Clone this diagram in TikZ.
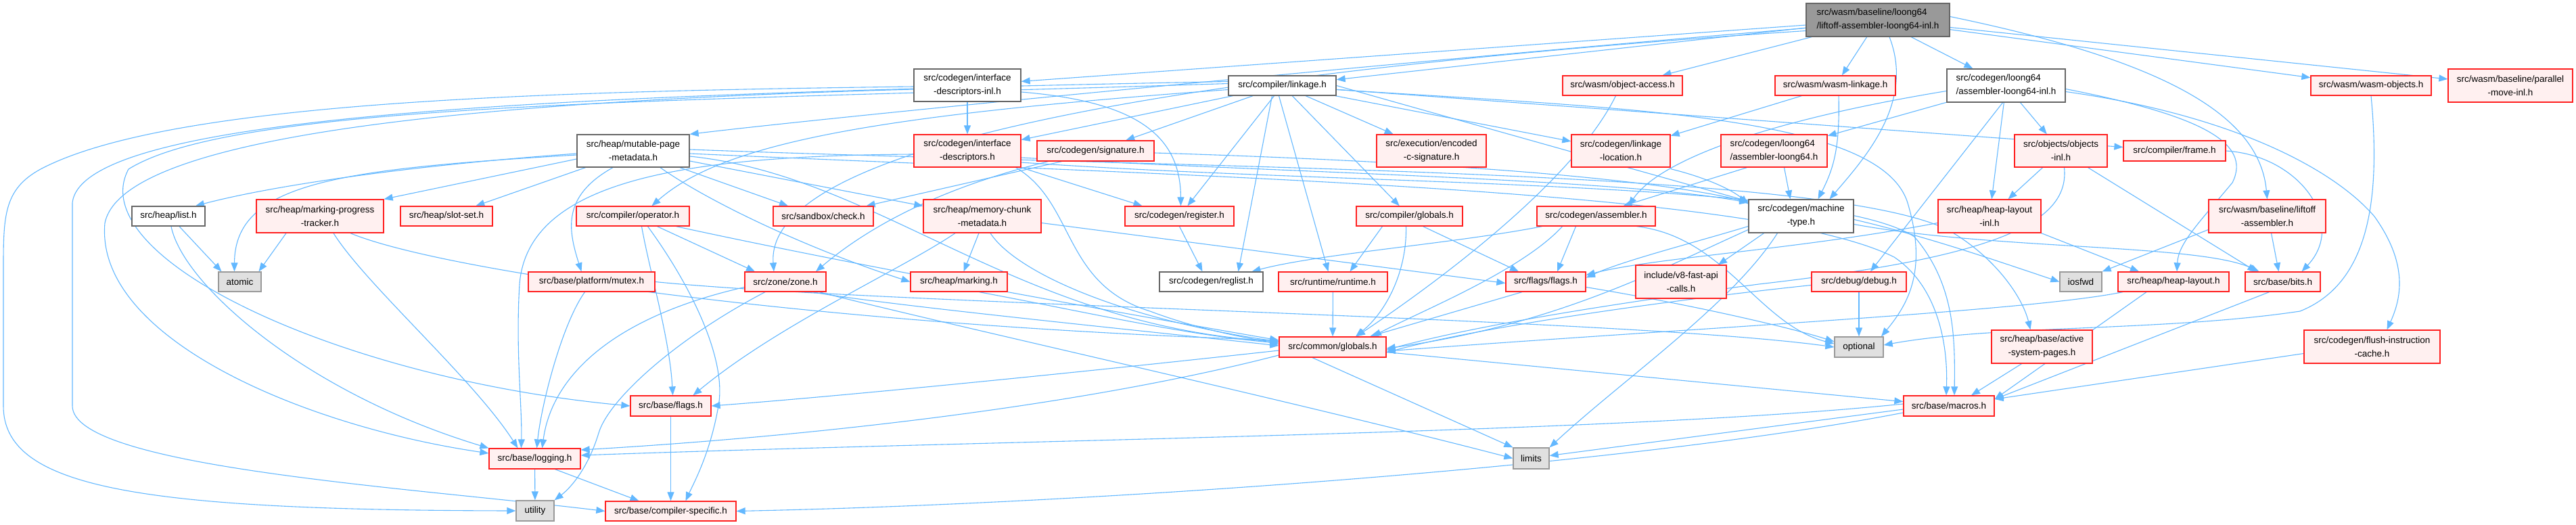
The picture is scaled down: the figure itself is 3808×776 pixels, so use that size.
\documentclass[tikz,border=0pt]{standalone}
\usepackage{fontspec}
\setmainfont{Liberation Sans}
\usetikzlibrary{arrows.meta}
\definecolor{edgeblue}{HTML}{63B8FF}
\definecolor{redfill}{HTML}{FFF0F0}
\definecolor{redline}{HTML}{FF2020}
\definecolor{greyforty}{HTML}{666666}
\definecolor{greysixty}{HTML}{999999}
\definecolor{sysfill}{HTML}{E0E0E0}
\pgfdeclarelayer{bg}
\pgfsetlayers{bg,main}
\tikzset{
 box/.style={draw, rectangle, inner sep=0pt, align=center, font=\fontsize{13.5}{20}\selectfont, line width=1.3pt},
 rbox/.style={box, draw=redline, fill=redfill},
 wbox/.style={box, draw=greyforty, fill=white},
 gbox/.style={box, draw=greyforty, fill=greysixty},
 sbox/.style={box, draw=greysixty, fill=sysfill},
 edg/.style={draw=edgeblue, line width=1.1pt, -{Triangle[length=13pt,width=10pt]}}
}
\newcommand{\mknode}[7]{\node[#6, minimum width={#4pt-#2pt}, minimum height={#5pt-#3pt}] (#1) at ({(#2+#4)/2},{(#3+#5)/2}) {#7};}
\begin{document}
\begin{tikzpicture}[x=1pt,y=-1pt]
\useasboundingbox (0,0) rectangle (3808,776);
% row 0-1
\mknode{T}{2670}{5}{2882}{54}{gbox,align=left}{src/wasm/baseline/loong64\\/liftoff-assembler-loong64-inl.h}
\mknode{IDI}{1351}{102}{1509}{150}{wbox}{src/codegen/interface\\-descriptors-inl.h}
\mknode{LNK}{1816}{112}{1975}{141}{wbox}{src/compiler/linkage.h}
\mknode{OA}{2310}{112}{2487}{141}{rbox}{src/wasm/object-access.h}
\mknode{WL}{2624}{112}{2802}{141}{rbox}{src/wasm/wasm-linkage.h}
\mknode{ALI}{2878}{102}{3053}{151}{wbox,align=left}{src/codegen/loong64\\/assembler-loong64-inl.h}
\mknode{WO}{3416}{112}{3594}{141}{rbox}{src/wasm/wasm-objects.h}
\mknode{PM}{3619}{102}{3803}{151}{rbox}{src/wasm/baseline/parallel\\-move-inl.h}
% row 2
\mknode{MPM}{853}{199}{1019}{247}{wbox}{src/heap/mutable-page\\-metadata.h}
\mknode{IDH}{1351}{199}{1509}{247}{rbox}{src/codegen/interface\\-descriptors.h}
\mknode{SIG}{1533}{208}{1706}{238}{rbox}{src/codegen/signature.h}
\mknode{ECS}{2035}{199}{2197}{247}{rbox}{src/execution/encoded\\-c-signature.h}
\mknode{LL}{2323}{199}{2469}{247}{rbox}{src/codegen/linkage\\-location.h}
\mknode{AL}{2544}{199}{2701}{247}{rbox,align=left}{src/codegen/loong64\\/assembler-loong64.h}
\mknode{OI}{2978}{199}{3115}{247}{rbox}{src/objects/objects\\-inl.h}
\mknode{FR}{3139}{208}{3290}{238}{rbox}{src/compiler/frame.h}
% row 3
\mknode{LIST}{195}{305}{303}{334}{wbox}{src/heap/list.h}
\mknode{MPT}{379}{295}{567}{344}{rbox}{src/heap/marking-progress\\-tracker.h}
\mknode{SS}{592}{305}{728}{334}{rbox}{src/heap/slot-set.h}
\mknode{OP}{852}{305}{1019}{334}{rbox}{src/compiler/operator.h}
\mknode{CHK}{1143}{305}{1291}{334}{rbox}{src/sandbox/check.h}
\mknode{MCM}{1365}{295}{1539}{344}{rbox}{src/heap/memory-chunk\\-metadata.h}
\mknode{REG}{1663}{305}{1824}{334}{rbox}{src/codegen/register.h}
\mknode{CG}{2005}{305}{2162}{334}{rbox}{src/compiler/globals.h}
\mknode{ASM}{2272}{305}{2447}{334}{rbox}{src/codegen/assembler.h}
\mknode{MT}{2585}{295}{2740}{344}{wbox}{src/codegen/machine\\-type.h}
\mknode{HLI}{2865}{295}{3017}{344}{rbox}{src/heap/heap-layout\\-inl.h}
\mknode{LA}{3265}{295}{3438}{344}{rbox}{src/wasm/baseline/liftoff\\-assembler.h}
% row 4
\mknode{ATOM}{323}{402}{386}{431}{sbox}{atomic}
\mknode{MUT}{781}{402}{968}{431}{rbox}{src/base/platform/mutex.h}
\mknode{ZONE}{1101}{402}{1221}{431}{rbox}{src/zone/zone.h}
\mknode{MARK}{1346}{402}{1489}{431}{rbox}{src/heap/marking.h}
\mknode{RL}{1714}{402}{1867}{431}{wbox}{src/codegen/reglist.h}
\mknode{RT}{1890}{402}{2051}{431}{rbox}{src/runtime/runtime.h}
\mknode{FF}{2226}{402}{2344}{431}{rbox}{src/flags/flags.h}
\mknode{V8F}{2418}{392}{2552}{441}{rbox}{include/v8-fast-api\\-calls.h}
\mknode{DBG}{2678}{402}{2818}{431}{rbox}{src/debug/debug.h}
\mknode{IOS}{3045}{402}{3107}{431}{sbox}{iosfwd}
\mknode{HL}{3131}{402}{3295}{431}{rbox}{src/heap/heap-layout.h}
\mknode{BITS}{3319}{402}{3430}{431}{rbox}{src/base/bits.h}
% row 5
\mknode{CGL}{1891}{498}{2049}{528}{rbox}{src/common/globals.h}
\mknode{OPT}{2712}{498}{2784}{528}{sbox}{optional}
\mknode{ASP}{2944}{488}{3093}{537}{rbox}{src/heap/base/active\\-system-pages.h}
\mknode{FIC}{3406}{488}{3607}{537}{rbox}{src/codegen/flush-instruction\\-cache.h}
% row 6-8
\mknode{BF}{932}{585}{1051}{615}{rbox}{src/base/flags.h}
\mknode{MAC}{2814}{585}{2948}{615}{rbox}{src/base/macros.h}
\mknode{LOG}{723}{663}{858}{693}{rbox}{src/base/logging.h}
\mknode{LIM}{2237}{662}{2290}{693}{sbox}{limits}
\mknode{UTIL}{763}{740}{819}{770}{sbox}{utility}
\mknode{CS}{895}{741}{1088}{770}{rbox}{src/base/compiler-specific.h}

\begin{pgfonlayer}{bg}
\fill[white] (0,0) rectangle (3808,776);
% T
\draw[edg] (T) -- (IDI);
\draw[edg] (T) -- (LNK);
\draw[edg] (T) -- (OA);
\draw[edg] (T) -- (WL);
\draw[edg] (T) -- (ALI);
\draw[edg] (T) -- (WO);
\draw[edg] (T) -- (PM);
\draw[edg] ([xshift=17pt]T.south) .. controls (2830,150) and (2760,230) .. ([xshift=42pt]MT.north);
\draw[edg] ([yshift=5pt]T.east) .. controls (3200,90) and (3340,170) .. (LA.north);
\draw[edg] ([yshift=-12pt]T.west) .. controls (2200,80) and (1300,165) .. (MPM.north east);
\draw[edg] ([yshift=-16pt]T.west) .. controls (1700,110) and (1130,220) .. ([xshift=-17pt]ZONE.north);
% IDI
\draw[edg] (IDI) -- (IDH);
\draw[edg] ([yshift=-10pt]IDI.east) .. controls (1680,150) and (1745,200) .. ([xshift=2pt]REG.north);
\draw[edg] ([yshift=-2pt]IDI.west) .. controls (800,135) and (250,150) .. (60,250) .. controls (5,280) and (5,320) .. (5,400) -- (5,600) .. controls (5,720) and (200,754) .. (UTIL.west);
\draw[edg] ([yshift=-6pt]IDI.west) .. controls (700,150) and (180,200) .. (155,330) .. controls (140,500) and (450,630) .. ([yshift=8pt]LOG.west);
% LNK
\draw[edg] (LNK) -- (IDH);
\draw[edg] (LNK) -- (SIG);
\draw[edg] (LNK) -- (ECS);
\draw[edg] (LNK) -- (LL);
\draw[edg] (LNK) -- (CG);
\draw[edg] (LNK) -- (REG);
\draw[edg] ([xshift=-15pt]LNK.south) -- ([xshift=40pt]RL.north);
\draw[edg] ([xshift=-5pt]LNK.south) -- ([xshift=-7pt]RT.north);
\draw[edg] ([yshift=-6pt]LNK.west) .. controls (1300,170) and (1070,210) .. ([xshift=28pt]OP.north);
\draw[edg] (LNK) -- (FR);
\draw[edg] (LNK.east) .. controls (2200,190) and (2450,260) .. ([yshift=22pt]MT.west);
\draw[edg] ([yshift=3pt]LNK.west) .. controls (1000,150) and (350,150) .. (190,250) .. controls (120,380) and (500,560) .. (BF.west);
\draw[edg] ([yshift=6pt]LNK.west) .. controls (800,140) and (120,170) .. (107,300) -- (107,600) .. controls (107,690) and (600,720) .. (CS.west);
\draw[edg] ([yshift=-6pt]LNK.east) .. controls (2400,160) and (2780,170) .. (2820,300) .. controls (2850,400) and (2820,450) .. ([xshift=33pt]OPT.north);
% OA
\draw[edg] ([xshift=-10pt]OA.south) .. controls (2330,260) and (2150,400) .. ([xshift=35pt]CGL.north);
% WL
\draw[edg] (WL) -- (LL);
\draw[edg] ([xshift=5pt]WL.south) .. controls (2720,220) and (2710,250) .. ([xshift=25pt]MT.north);
% ALI
\draw[edg] (ALI) -- (AL);
\draw[edg] (ALI) -- (OI);
\draw[edg] (ALI) -- (HLI);
\draw[edg] ([xshift=-5pt]ALI.south) -- ([xshift=17pt]DBG.north);
\draw[edg] ([yshift=-8pt]ALI.west) .. controls (2600,180) and (2450,240) .. ([xshift=48pt]ASM.north);
\draw[edg] ([yshift=-5pt]ALI.east) .. controls (3250,170) and (3330,210) .. (3300,270) .. controls (3250,330) and (3220,360) .. ([xshift=5pt]HL.north);
\draw[edg] ([yshift=-9pt]ALI.east) .. controls (3300,170) and (3450,250) .. (3510,320) .. controls (3560,390) and (3550,440) .. ([xshift=22pt]FIC.north);
% AL
\draw[edg] ([xshift=15pt]AL.south) -- ([xshift=-16pt]MT.north);
\draw[edg] ([xshift=-40pt]AL.south) -- ([xshift=40pt]ASM.north);
% OI
\draw[edg] (OI) -- (HLI);
\draw[edg] ([xshift=40pt]OI.south) -- ([xshift=-39pt]BITS.north);
\draw[edg] ([xshift=5pt]OI.south) .. controls (3060,330) and (2950,380) .. (2600,420) .. controls (2300,460) and (2150,490) .. ([yshift=-4pt]CGL.east);
% FR, LA
\draw[edg] (FR.east) .. controls (3400,230) and (3470,330) .. ([xshift=28pt]BITS.north);
\draw[edg] ([xshift=6pt]LA.south) -- ([xshift=-6pt]BITS.north);
\draw[edg] ([yshift=-20pt]LA.west) -- (IOS.north east);
% MPM
\draw[edg] ([yshift=-4pt]MPM.west) .. controls (600,245) and (400,275) .. ([xshift=40pt]LIST.north);
\draw[edg] ([yshift=-6pt]MPM.west) .. controls (500,250) and (347,270) .. ([xshift=-8pt]ATOM.north);
\draw[edg] ([yshift=-12pt]MPM.west) -- (MPT.north east);
\draw[edg] (MPM) -- (SS);
\draw[edg] ([xshift=-30pt]MPM.south) .. controls (830,290) and (840,340) .. ([xshift=-15pt]MUT.north);
\draw[edg] ([xshift=69pt]MPM.south) -- ([xshift=-52pt]CHK.north);
\draw[edg] ([yshift=-15pt]MPM.east) -- ([yshift=15pt]MCM.west);
\draw[edg] ([xshift=40pt]MPM.south) .. controls (1050,300) and (1200,370) .. (MARK.west);
\draw[edg] ([yshift=2pt]MPM.east) .. controls (1800,250) and (2700,250) .. (2880,340) .. controls (2950,380) and (2990,440) .. ([xshift=-17pt]ASP.north);
\draw[edg] ([yshift=-4pt]MPM.east) .. controls (1800,262) and (2600,280) .. (2800,380) .. controls (2860,420) and (2880,500) .. ([xshift=-4pt]MAC.north);
\draw[edg] ([yshift=-8pt]MPM.east) .. controls (1300,260) and (1500,480) .. ([yshift=8pt]CGL.west);
% IDH
\draw[edg] (IDH.south east) -- ([xshift=-55pt]REG.north);
\draw[edg] ([yshift=-5pt]IDH.west) .. controls (1000,230) and (780,270) .. (768,420) .. controls (762,520) and (772,600) .. ([xshift=-20pt]LOG.north);
\draw[edg] ([yshift=-10pt]IDH.east) .. controls (1900,255) and (2400,265) .. ([yshift=20pt]MT.west);
\draw[edg] ([xshift=-8pt]IDH.south east) .. controls (1590,300) and (1570,420) .. (1700,460) .. controls (1780,490) and (1850,500) .. ([yshift=4pt]CGL.west);
\draw[edg] ([yshift=-17pt]IDH.east) .. controls (2000,275) and (2700,265) .. (2830,350) .. controls (2890,420) and (2890,500) .. ([xshift=8pt]MAC.north);
% SIG
\draw[edg] ([xshift=-50pt]SIG.south) -- ([xshift=-11pt]CHK.north east);
\draw[edg] ([xshift=-70pt]SIG.south) .. controls (1400,275) and (1290,330) .. ([xshift=45pt]ZONE.north);
\draw[edg] ([yshift=-3pt]SIG.east) .. controls (2000,235) and (2400,255) .. ([yshift=21pt]MT.west);
% LL
\draw[edg] ([yshift=-2pt]LL.south east) .. controls (2520,262) and (2560,280) .. ([yshift=18pt]MT.west);
% OP
\draw[edg] ([xshift=36pt]OP.south) -- ([xshift=-45pt]ZONE.north);
\draw[edg] ([xshift=13pt]OP.south) .. controls (960,400) and (990,500) .. ([xshift=3pt]BF.north);
\draw[edg] ([xshift=22pt]OP.south) .. controls (1020,420) and (1075,530) .. (1062,600) .. controls (1050,670) and (1025,715) .. ([xshift=22pt]CS.north);
\draw[edg] ([xshift=64pt]OP.south) .. controls (1300,400) and (1700,470) .. ([yshift=10pt]CGL.west);
% MCM
\draw[edg] ([xshift=-5pt]MCM.south) -- ([xshift=7pt]MARK.north);
\draw[edg] ([xshift=-40pt]MCM.south) .. controls (1330,400) and (1150,480) .. ([xshift=33pt]BF.north);
\draw[edg] ([xshift=12pt]MCM.south) .. controls (1500,400) and (1650,470) .. ([yshift=8pt]CGL.west);
\draw[edg] ([yshift=-10pt]MCM.east) -- ([yshift=-2pt]FF.west);
% REG
\draw[edg] (REG.south) -- ([xshift=-13pt]RL.north);
% CG
\draw[edg] ([xshift=-40pt]CG.south) -- ([xshift=25pt]RT.north);
\draw[edg] ([xshift=20pt]CG.south) -- ([xshift=-40pt]FF.north);
\draw[edg] ([xshift=-5pt]CG.south) .. controls (2080,400) and (2050,460) .. ([xshift=34pt]CGL.north);
% ASM
\draw[edg] ([xshift=-80pt]ASM.south) .. controls (2150,360) and (1950,375) .. ([xshift=60pt]RL.north);
\draw[edg] ([xshift=-30pt]ASM.south) -- ([xshift=17pt]FF.north);
\draw[edg] ([xshift=-50pt]ASM.south) .. controls (2250,400) and (2100,460) .. ([xshift=59pt]CGL.north);
\draw[edg] ([xshift=60pt]ASM.south) .. controls (2550,350) and (2600,480) .. ([yshift=5pt]OPT.west);
% MT
\draw[edg] ([xshift=-55pt]MT.south) -- ([xshift=55pt]V8F.north);
\draw[edg] ([yshift=-15pt]MT.west) .. controls (2500,360) and (2400,385) .. ([yshift=6pt]FF.east);
\draw[edg] ([yshift=-20pt]MT.west) .. controls (2450,400) and (2300,480) .. ([yshift=-2pt]CGL.east);
\draw[edg] ([xshift=-35pt]MT.south) .. controls (2560,450) and (2400,560) .. (LIM.north east);
\draw[edg] ([yshift=-5pt]MT.east) .. controls (2850,350) and (2950,385) .. (IOS.west);
\draw[edg] ([yshift=-12pt]MT.east) .. controls (2950,370) and (3250,360) .. ([xshift=-35pt]BITS.north);
% HLI
\draw[edg] (HLI.south east) -- ([xshift=-51pt]HL.north);
\draw[edg] ([yshift=-10pt]HLI.west) .. controls (2650,370) and (2450,380) .. ([yshift=10pt]FF.east);
% DBG
\draw[edg] (DBG) -- (OPT);
\draw[edg] ([yshift=-5pt]DBG.west) .. controls (2500,440) and (2200,480) .. ([yshift=-8pt]CGL.east);
% WO
\draw[edg] (WO.south) .. controls (3520,300) and (3500,420) .. (3400,460) .. controls (3200,490) and (2950,480) .. ([yshift=3pt]OPT.east);
% MUT
\draw[edg] ([xshift=-10pt]MUT.south) .. controls (830,480) and (800,600) .. ([xshift=3pt]LOG.north);
\draw[edg] (MUT.east) .. controls (1300,450) and (2400,470) .. (OPT.west);
% ZONE
\draw[edg] ([yshift=-8pt]ZONE.west) .. controls (900,470) and (815,560) .. ([xshift=11pt]LOG.north);
\draw[edg] ([xshift=-30pt]ZONE.south) .. controls (1000,500) and (900,590) .. (885,640) .. controls (870,690) and (845,720) .. (UTIL.north east);
\draw[edg] ([xshift=40pt]ZONE.south) .. controls (1300,450) and (1700,490) .. ([yshift=2pt]CGL.west);
\draw[edg] ([xshift=50pt]ZONE.south) .. controls (1400,480) and (1900,590) .. (LIM.west);
% MARK, RT, FF
\draw[edg] ([xshift=30pt]MARK.south) .. controls (1600,460) and (1750,495) .. ([yshift=6pt]CGL.west);
\draw[edg] (RT) -- (CGL);
\draw[edg] ([xshift=-35pt]FF.south) -- ([xshift=55pt]CGL.north);
\draw[edg] ([yshift=-8pt]FF.east) .. controls (2500,450) and (2650,485) .. ([yshift=8pt]OPT.west);
% HL, BITS, ASP, FIC
\draw[edg] ([xshift=-40pt]HL.south) -- ([yshift=10pt]MAC.east);
\draw[edg] ([xshift=-75pt]HL.south) .. controls (3000,460) and (2500,485) .. ([yshift=-6pt]CGL.east);
\draw[edg] ([xshift=-20pt]BITS.south) -- ([yshift=10pt]MAC.east);
\draw[edg] ([xshift=-30pt]ASP.south) -- ([xshift=33pt]MAC.north);
\draw[edg] ([yshift=-10pt]FIC.west) -- ([yshift=10pt]MAC.east);
% MPT, LIST
\draw[edg] ([xshift=-50pt]MPT.south) -- ([xshift=28pt]ATOM.north);
\draw[edg] ([xshift=20pt]MPT.south) .. controls (540,420) and (700,560) .. ([xshift=-25pt]LOG.north);
\draw[edg] ([xshift=45pt]MPT.south) .. controls (650,400) and (1200,480) .. ([yshift=10pt]CGL.west);
\draw[edg] ([xshift=4pt]LIST.south) .. controls (270,420) and (450,580) .. (LOG.north west);
\draw[edg] ([xshift=16pt]LIST.south) -- ([xshift=-27pt]ATOM.north);
% CGL
\draw[edg] ([yshift=-5pt]CGL.west) .. controls (1600,550) and (1250,585) .. (BF.east);
\draw[edg] ([yshift=-12pt]CGL.west) .. controls (1600,600) and (1200,645) .. ([yshift=13pt]LOG.east);
\draw[edg] (CGL) -- (MAC);
\draw[edg] ([xshift=-30pt]CGL.south) -- (LIM.north west);
% BF, MAC, LOG
\draw[edg] (BF) -- (CS);
\draw[edg] ([yshift=3pt]MAC.west) .. controls (2400,640) and (1500,650) .. ([yshift=5pt]LOG.east);
\draw[edg] ([yshift=-5pt]MAC.west) -- ([yshift=4pt]LIM.east);
\draw[edg] ([yshift=-10pt]MAC.west) .. controls (2400,690) and (1600,745) .. (CS.east);
\draw[edg] (LOG) -- (UTIL);
\draw[edg] ([xshift=30pt]LOG.south) -- ([xshift=-47pt]CS.north);
\end{pgfonlayer}
\end{tikzpicture}
\end{document}
